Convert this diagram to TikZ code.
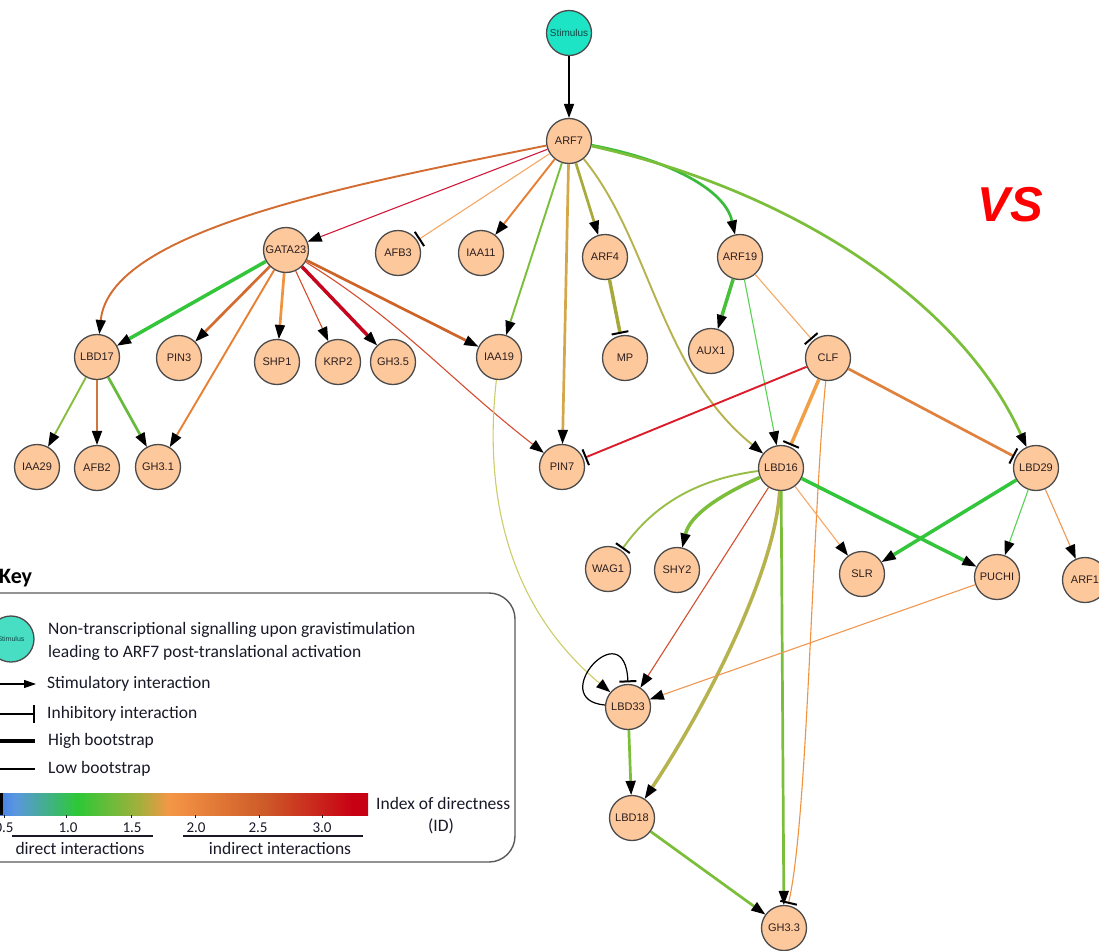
\documentclass[tikz,border=0pt]{standalone}
\usepackage{fontspec}
\setmainfont{Carlito}
\newfontfamily\genefont{Liberation Sans}
\usetikzlibrary{arrows.meta}

% node and text colours
\definecolor{peach}{RGB}{253,200,156}
\definecolor{nodeedge}{RGB}{75,75,75}
\definecolor{labeltext}{RGB}{45,30,30}
\definecolor{stimcyan}{RGB}{28,228,196}
\definecolor{stimkey}{RGB}{72,222,196}
\definecolor{stimtext}{RGB}{20,70,70}
\definecolor{keyframe}{RGB}{90,90,90}
\definecolor{keyink}{RGB}{25,25,40}
\definecolor{vsred}{RGB}{255,0,0}

% edge colours (index of directness)
\definecolor{eBrown}{RGB}{210,108,48}
\definecolor{eCrimson}{RGB}{210,26,60}
\definecolor{eLtOrange}{RGB}{245,168,98}
\definecolor{eOrange}{RGB}{232,128,52}
\definecolor{eYG}{RGB}{122,190,58}
\definecolor{eGold}{RGB}{212,168,74}
\definecolor{eOlive}{RGB}{168,170,58}
\definecolor{eOliveL}{RGB}{182,178,78}
\definecolor{eGreen}{RGB}{58,188,58}
\definecolor{eLime}{RGB}{88,210,82}
\definecolor{eGreenB}{RGB}{52,198,58}
\definecolor{eRust}{RGB}{205,100,40}
\definecolor{eRedOr}{RGB}{212,78,48}
\definecolor{eDarkRed}{RGB}{198,6,30}
\definecolor{eShp}{RGB}{240,146,62}
\definecolor{eIaa}{RGB}{136,190,62}
\definecolor{eAfb}{RGB}{208,118,60}
\definecolor{eGh}{RGB}{104,186,60}
\definecolor{eMP}{RGB}{166,168,60}
\definecolor{eAux}{RGB}{72,192,58}
\definecolor{eClfPin}{RGB}{220,28,42}
\definecolor{eClfL}{RGB}{241,160,72}
\definecolor{eClfM}{RGB}{224,130,62}
\definecolor{ePale}{RGB}{204,204,104}
\definecolor{eWag}{RGB}{152,190,72}
\definecolor{eSlr}{RGB}{246,168,104}
\definecolor{eArf}{RGB}{240,152,82}

% colour scale of the key
\definecolor{cbBlue}{RGB}{70,130,228}
\definecolor{cbBlueB}{RGB}{90,150,225}
\definecolor{cbGreen}{RGB}{45,200,55}
\definecolor{cbOlive}{RGB}{165,175,60}
\definecolor{cbOrange}{RGB}{245,150,70}
\definecolor{cbRust}{RGB}{205,90,40}
\definecolor{cbRed}{RGB}{200,0,20}
\pgfdeclarehorizontalshading{idscale}{100bp}{color(0bp)=(cbBlue); color(25bp)=(cbBlue); color(27bp)=(cbBlueB); color(35.5bp)=(cbGreen); color(44bp)=(cbOlive); color(48bp)=(cbOrange); color(61bp)=(cbRust); color(73bp)=(cbRed); color(75bp)=(cbRed); color(100bp)=(cbRed)}

\begin{document}
\begin{tikzpicture}[x=1pt,y=-1pt,
  gene/.style={circle,draw=nodeedge,line width=1.3pt,fill=peach,minimum size=45pt,inner sep=0pt,
    text=labeltext,font=\genefont\fontsize{11}{13}\selectfont},
  stimnode/.style={gene,fill=stimcyan,text=stimtext},
  act/.style={-{Triangle[length=14pt,width=10.5pt,color=black,line width=0pt]}},
  inh/.style={-{Bar[width=17pt,line width=2pt,color=black]},shorten >=1.5pt},
  w1/.style={line width=1.1pt},
  w2/.style={line width=1.9pt},
  w3/.style={line width=2.7pt},
  w4/.style={line width=3.5pt},
  keytext/.style={anchor=west,inner sep=0pt,text=keyink,font=\fontsize{17.5}{20}\selectfont},
  ticklabel/.style={inner sep=0pt,text=keyink,font=\fontsize{15}{17}\selectfont},
]
\useasboundingbox (0,0) rectangle (1099,950);
\clip (0,0) rectangle (1099,950);
\fill[white] (0,0) rectangle (1099,950);

% ---------- genes ----------
\node[stimnode,font=\genefont\fontsize{10}{12}\selectfont] (stim) at (569,33) {Stimulus};
\node[gene] (arf7)   at (569,141) {ARF7};
\node[gene] (gata23) at (286,250) {GATA23};
\node[gene] (afb3)   at (398,253) {AFB3};
\node[gene] (iaa11)  at (481,253) {IAA11};
\node[gene] (arf4)   at (605,257) {ARF4};
\node[gene] (arf19)  at (740,257) {ARF19};
\node[gene] (lbd17)  at (97,357)  {LBD17};
\node[gene] (pin3)   at (179,358) {PIN3};
\node[gene] (shp1)   at (277,362) {SHP1};
\node[gene] (krp2)   at (338,362) {KRP2};
\node[gene] (gh35)   at (393,362) {GH3.5};
\node[gene] (iaa19)  at (499,357) {IAA19};
\node[gene] (mp)     at (625,358) {MP};
\node[gene] (aux1)   at (711,351) {AUX1};
\node[gene] (clf)    at (828,358) {CLF};
\node[gene] (iaa29)  at (37,467)  {IAA29};
\node[gene] (afb2)   at (97,468)  {AFB2};
\node[gene] (gh31)   at (158,467) {GH3.1};
\node[gene] (pin7)   at (562,467) {PIN7};
\node[gene] (lbd16)  at (781,468) {LBD16};
\node[gene] (lbd29)  at (1036,468) {LBD29};
\node[gene] (wag1)   at (608,569) {WAG1};
\node[gene] (shy2)   at (677,570) {SHY2};
\node[gene] (slr)    at (862,574) {SLR};
\node[gene] (puchi)  at (997,577) {PUCHI};
\node[gene] (arf1)   at (1085,580) {ARF1};
\node[gene] (lbd33)  at (628,707) {LBD33};
\node[gene] (lbd18)  at (632,818) {LBD18};
\node[gene] (gh33)   at (784,928) {GH3.3};

% ---------- interactions ----------
\draw[act,w3,draw=black] (stim) -- (arf7);
% ARF7
\draw[act,w2,draw=eBrown] (arf7) .. controls (350,185) and (110,230) .. (lbd17);
\draw[act,w1,draw=eCrimson] (arf7) -- (gata23);
\draw[inh,w1,draw=eLtOrange] (arf7) -- (afb3);
\draw[act,w2,draw=eOrange] (arf7) -- (iaa11);
\draw[act,w2,draw=eYG] (arf7) -- (iaa19);
\draw[act,w3,draw=eGold] (arf7) -- (pin7);
\draw[act,w3,draw=eOlive] (arf7) -- (arf4);
\draw[act,w2,draw=eOliveL] (arf7) .. controls (650,240) and (660,370) .. (lbd16);
\draw[act,w3,draw=eGreen] (arf7) .. controls (670,160) and (725,190) .. (arf19);
\draw[act,w3,draw=eYG] (arf7) .. controls (790,190) and (960,300) .. (lbd29);
% GATA23
\draw[act,w4,draw=eGreenB] (gata23) -- (lbd17);
\draw[act,w3,draw=eBrown] (gata23) -- (pin3);
\draw[act,w2,draw=eOrange] (gata23) -- (gh31);
\draw[act,w3,draw=eShp] (gata23) -- (shp1);
\draw[act,w1,draw=eRedOr] (gata23) -- (krp2);
\draw[act,w4,draw=eDarkRed] (gata23) -- (gh35);
\draw[act,w3,draw=eRust] (gata23) -- (iaa19);
\draw[act,w1,draw=eRedOr] (gata23) .. controls (400,320) and (450,380) .. (pin7);
% LBD17
\draw[act,w2,draw=eIaa] (lbd17) -- (iaa29);
\draw[act,w3,draw=eAfb] (lbd17) -- (afb2);
\draw[act,w3,draw=eGh] (lbd17) -- (gh31);
% ARF4 and ARF19
\draw[inh,w4,draw=eMP] (arf4) -- (mp);
\draw[act,w4,draw=eAux] (arf19) -- (aux1);
\draw[act,w1,draw=eLime] (arf19) -- (lbd16);
\draw[inh,w1,draw=eLtOrange] (arf19) -- (clf);
% CLF
\draw[inh,w2,draw=eClfPin] (clf) -- (pin7);
\draw[inh,w4,draw=eClfL] (clf) -- (lbd16);
\draw[inh,w3,draw=eClfM] (clf) -- (lbd29);
\draw[inh,w1,draw=eShp] (clf) .. controls (812,520) and (808,820) .. (gh33.80);
% IAA19
\draw[act,w1,draw=ePale] (iaa19) .. controls (485,480) and (500,600) .. (lbd33);
% LBD16
\draw[inh,w2,draw=eWag] (lbd16) .. controls (690,480) and (650,510) .. (wag1);
\draw[act,w4,draw=eYG] (lbd16) .. controls (720,495) and (690,515) .. (shy2);
\draw[act,w1,draw=eRedOr] (lbd16) -- (lbd33);
\draw[act,w4,draw=eOliveL] (lbd16) .. controls (775,570) and (710,700) .. (lbd18);
\draw[act,w3,draw=eYG] (lbd16) -- (gh33);
\draw[act,w1,draw=eSlr] (lbd16) -- (slr);
\draw[act,w4,draw=eGreenB] (lbd16) -- (puchi);
% LBD29 and PUCHI
\draw[act,w4,draw=eGreenB] (lbd29) -- (slr);
\draw[act,w1,draw=eLime] (lbd29) -- (puchi);
\draw[act,w1,draw=eArf] (lbd29) -- (arf1);
\draw[act,w1,draw=eArf] (puchi) -- (lbd33);
% LBD33 self-repression and downstream
\draw[inh,line width=1.2pt,draw=black] (lbd33.175) .. controls (545,700) and (625,610) .. (lbd33.north);
\draw[act,w3,draw=eYG] (lbd33) -- (lbd18);
\draw[act,w3,draw=eYG] (lbd18) -- (gh33);

% ---------- VS ----------
\node[inner sep=0pt,text=vsred,font=\genefont\bfseries\itshape\fontsize{49}{50}\selectfont] (vs) at (1010,205) {VS};

% ---------- key ----------
\node[anchor=west,inner sep=0pt,text=black,font=\bfseries\fontsize{22}{26}\selectfont] (keytitle) at (-1,578) {Key};
\node[draw=keyframe,line width=1.4pt,rounded corners=26pt,minimum width=555pt,minimum height=269pt,inner sep=0pt] (keybox) at (237.5,727.5) {};

\node[stimnode,fill=stimkey,minimum size=46pt,font=\genefont\fontsize{7}{8}\selectfont] (keystim) at (11,639) {Stimulus};
\node[keytext] (kt1) at (48,630) {Non-transcriptional signalling upon gravistimulation};
\node[keytext] (kt2) at (48,653) {leading to ARF7 post-translational activation};
\node[keytext] (kact) at (47,684) {Stimulatory interaction};
\node[keytext] (kinh) at (47,714) {Inhibitory interaction};
\node[keytext] (khigh) at (48,741) {High bootstrap};
\node[keytext] (klow) at (48,769) {Low bootstrap};

\coordinate (ka0) at (-5,684);  \coordinate (ka1) at (36,684);
\coordinate (ki0) at (-5,714);  \coordinate (ki1) at (35,714);
\coordinate (kh0) at (-5,741);  \coordinate (kh1) at (35,741);
\coordinate (kl0) at (-5,769);  \coordinate (kl1) at (35,769);
\draw[-{Triangle[length=12pt,width=8pt]},line width=1.1pt] (ka0) -- (ka1);
\draw[-{Bar[width=18pt,line width=1.6pt]},line width=1.1pt] (ki0) -- (ki1);
\draw[line width=4pt] (kh0) -- (kh1);
\draw[line width=1.1pt] (kl0) -- (kl1);

% index of directness scale
\shade[shading=idscale] (0,793) rectangle (368,815);
\fill[black] (0,793) rectangle (3,815);
\foreach \x in {4,66,131,195,259,322} \draw[line width=0.8pt,draw=keyink] (\x,815) -- (\x,818);
\node[ticklabel] (t05) at (4,828)   {0.5};
\node[ticklabel] (t10) at (68,828)  {1.0};
\node[ticklabel] (t15) at (132,828) {1.5};
\node[ticklabel] (t20) at (196,828) {2.0};
\node[ticklabel] (t25) at (258,828) {2.5};
\node[ticklabel] (t30) at (322,828) {3.0};
\coordinate (d0) at (12,836);  \coordinate (d1) at (153,836);
\coordinate (n0) at (183,836); \coordinate (n1) at (363,836);
\draw[line width=1.3pt,draw=keyink] (d0) -- (d1);
\draw[line width=1.3pt,draw=keyink] (n0) -- (n1);
\node[keytext,anchor=center] (kdirect) at (80,848) {direct interactions};
\node[keytext,anchor=center] (kindirect) at (280,848) {indirect interactions};
\node[keytext] (kid) at (376,803) {Index of directness};
\node[keytext,anchor=center] (kidab) at (441,826) {(ID)};
\end{tikzpicture}
\end{document}
